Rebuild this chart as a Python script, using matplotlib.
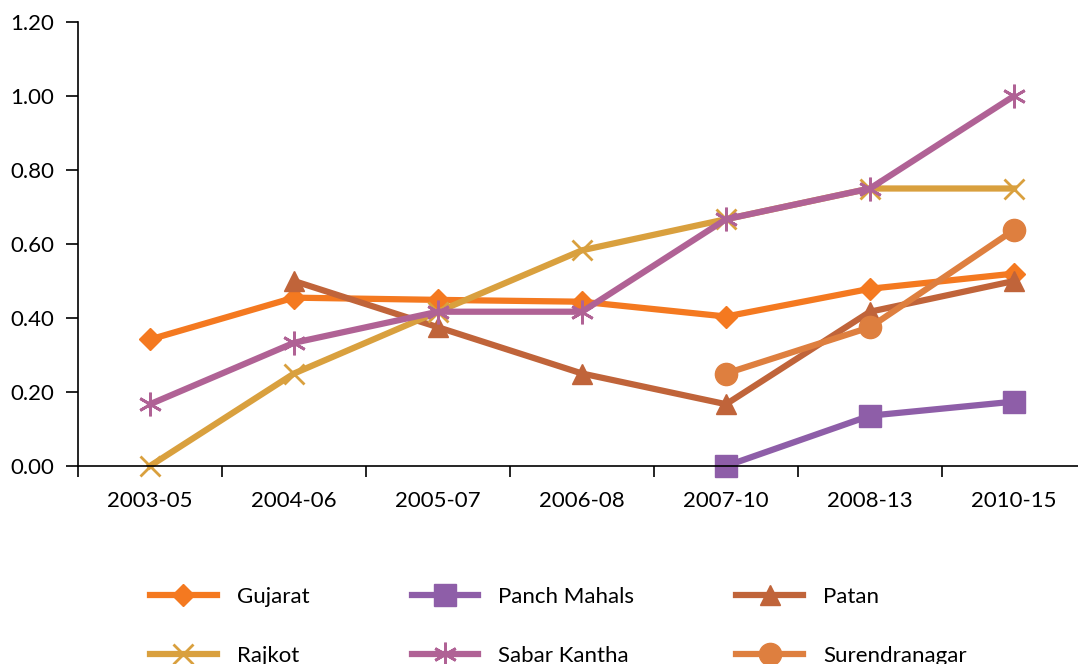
import matplotlib
matplotlib.use("Agg")
import matplotlib.pyplot as plt
import numpy as np

plt.rcParams['font.family'] = ['Lato', 'DejaVu Sans']

periods = ['2003-05', '2004-06', '2005-07', '2006-08', '2007-10', '2008-13', '2010-15']

gujarat = [0.342, 0.455, 0.449, 0.444, 0.404, 0.479, 0.520]
panch_mahals = [None, None, None, None, 0.0, 0.136, 0.174]
patan = [None, 0.50, 0.375, 0.25, 0.167, 0.417, 0.50]
rajkot = [0.0, 0.25, 0.417, 0.583, 0.667, 0.75, 0.75]
sabar_kantha = [0.167, 0.333, 0.417, 0.417, 0.667, 0.75, 1.0]
surendranagar = [None, None, None, None, 0.25, 0.375, 0.638]

series = [
    ('Gujarat', gujarat, '#F47920', 'D', 11.5, 1),
    ('Panch Mahals', panch_mahals, '#8E5EA8', 's', 16, 1),
    ('Patan', patan, '#C0643A', '^', 15, 1),
    ('Rajkot', rajkot, '#D9A03E', 'x', 15, 2),
    ('Sabar Kantha', sabar_kantha, '#B06295', (6, 2, 0), 17, 2),
    ('Surendranagar', surendranagar, '#DE7F3F', 'o', 16, 1),
]

fig = plt.figure(figsize=(10.78, 6.64), dpi=100)
ax = fig.add_axes([78 / 1078, 1 - 466 / 664, 1008 / 1078, 444 / 664])

x = np.arange(len(periods))
handles = {}
for name, vals, col, mk, ms, mew in series:
    y = np.array([np.nan if v is None else v for v in vals], dtype=float)
    ln, = ax.plot(x, y, color=col, lw=4.5, marker=mk, markersize=ms,
                  markeredgewidth=mew, markeredgecolor=col, markerfacecolor=col,
                  label=name, clip_on=False)
    handles[name] = ln

ax.set_xlim(-0.5, 6.5)
ax.set_ylim(0, 1.2)
ax.set_yticks(np.arange(0, 1.21, 0.2))
ax.set_yticklabels([f'{v:.2f}' for v in np.arange(0, 1.21, 0.2)])
ax.set_xticks(x)
ax.set_xticklabels(periods)
ax.set_xticks(np.arange(-0.5, 6.6, 1), minor=True)
ax.tick_params(axis='x', which='major', length=0, pad=18, labelsize=16)
ax.tick_params(axis='x', which='minor', length=8, width=1.2, direction='out')
ax.tick_params(axis='y', length=9, width=1.2, pad=8, labelsize=16)

for s in ['top', 'right']:
    ax.spines[s].set_visible(False)
for s in ['left', 'bottom']:
    ax.spines[s].set_linewidth(1.2)
    ax.spines[s].set_color('black')

# legend filled column by column, so order it to read row-wise
order = ['Gujarat', 'Rajkot', 'Panch Mahals', 'Sabar Kantha', 'Patan', 'Surendranagar']
fig.legend([handles[n] for n in order], order, ncol=3, loc='upper left',
           bbox_to_anchor=(130 / 1078, 1 - 567 / 664), frameon=False,
           fontsize=16, handlelength=3.0, handletextpad=0.9,
           columnspacing=4.6, labelspacing=1.75)

fig.savefig('out.png', dpi=100)
